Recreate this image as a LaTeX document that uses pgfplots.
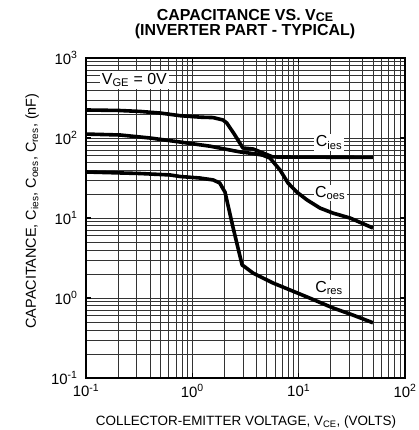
\documentclass[border=0pt]{standalone}
\usepackage{fontspec}
\setmainfont{Liberation Sans}
\usepackage{pgfplots}
\pgfplotsset{compat=1.18}

\newcommand{\sz}[1]{\fontsize{#1}{#1}\selectfont}

\begin{document}
\begin{tikzpicture}[x=1bp,y=1bp]
\useasboundingbox (-86,-52) rectangle (333,378);
\begin{axis}[
  at={(0,0)}, anchor=south west,
  width=319bp, height=320bp, scale only axis,
  xmode=log, ymode=log,
  xmin=0.1, xmax=100, ymin=0.1, ymax=1000,
  xtick={0.1,1,10,100},
  xticklabels={10\textsuperscript{-1},10\textsuperscript{0},10\textsuperscript{1},10\textsuperscript{2}},
  ytick={0.1,1,10,100,1000},
  yticklabels={10\textsuperscript{-1},10\textsuperscript{0},10\textsuperscript{1},10\textsuperscript{2},10\textsuperscript{3}},
  minor xtick={0.2,0.3,0.4,0.5,0.6,0.7,0.8,0.9,2,3,4,5,6,7,8,9,20,30,40,50,60,70,80,90},
  minor ytick={0.2,0.3,0.4,0.5,0.6,0.7,0.8,0.9,2,3,4,5,6,7,8,9,20,30,40,50,60,70,80,90,200,300,400,500,600,700,800,900},
  grid=both,
  major grid style={black!80, line width=0.6bp},
  minor grid style={black!80, line width=0.6bp},
  tick align=inside,
  major tick length=5bp, minor tick length=0pt,
  major tick style={black, line width=1.6bp},
  axis line style={black, line width=1.4bp},
  tick label style={font=\sz{15}},
  xticklabel style={yshift=-3bp},
  yticklabel style={xshift=-5bp},
  clip=false,
]
\addplot[black, line width=3.6bp, line join=round] coordinates {
  (0.1,224) (0.2,221) (0.32,215) (0.5,205) (0.77,190) (1.2,182) (1.57,180)
  (1.94,168) (2.11,154) (2.5,110) (2.99,75) (3.72,72.9) (4.63,64.9) (5.7,58)
  (8.3,57.8) (15,57.6) (30,57.4) (50,57.3)};
\addplot[black, line width=3.6bp, line join=round] coordinates {
  (0.1,112) (0.21,109) (0.4,100) (0.77,89) (1.47,79) (2.0,73) (2.8,67)
  (3.7,64) (4.6,61) (5.38,56) (6.68,39.8) (7.94,27.4) (9.6,21.1) (12.0,16.8)
  (15.9,13.3) (21.1,11.5) (30.4,10.0) (50,7.5)};
\addplot[black, line width=3.6bp, line join=round] coordinates {
  (0.1,37.6) (0.32,36) (0.62,34.5) (0.77,33) (1.18,31.6) (1.57,29.9)
  (1.81,27.4) (2.03,21) (2.41,7.7) (2.94,2.58) (3.13,2.44) (3.72,2.05)
  (5.74,1.54) (12.0,1.03) (21.1,0.75) (32.6,0.61) (50,0.49)};
\node[fill=white, inner sep=1.5bp, font=\sz{16}] at (axis cs:19.3,88) {C\textsubscript{ies}};
\node[fill=white, inner sep=1.5bp, font=\sz{16}] at (axis cs:19.8,20.5) {C\textsubscript{oes}};
\node[fill=white, inner sep=1.5bp, font=\sz{16}] at (axis cs:19.3,1.33) {C\textsubscript{res}};
\node[fill=white, inner sep=2bp, font=\sz{16}] at (axis cs:0.285,531) {V\textsubscript{GE} = 0V};
\end{axis}
\node[font=\sz{16}\bfseries, anchor=base] at (159,358) {CAPACITANCE VS. V\raisebox{-0.2ex}{\sz{12.5}CE}};
\node[font=\sz{16}\bfseries, anchor=base] at (159,342.5) {(INVERTER PART - TYPICAL)};
\node[font=\sz{13.5}, anchor=base] at (160,-47) {COLLECTOR-EMITTER VOLTAGE, V\textsubscript{CE}, (VOLTS)};
\node[font=\sz{14.5}, anchor=base, rotate=90] at (-50,167) {CAPACITANCE, C\textsubscript{ies}, C\textsubscript{oes}, C\textsubscript{res}, (nF)};
\end{tikzpicture}
\end{document}
